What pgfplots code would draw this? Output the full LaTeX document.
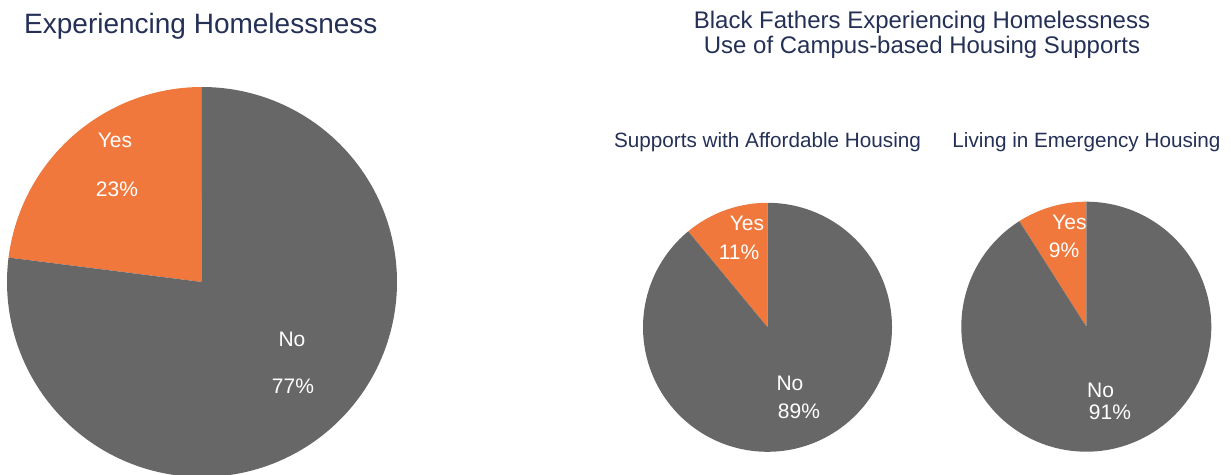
\documentclass[border=0pt]{standalone}
\usepackage{pgfplots}
\pgfplotsset{compat=1.18}
\usepackage{fontspec}
\setmainfont{Liberation Sans}
\definecolor{pieorange}{RGB}{240,120,60}
\definecolor{piegray}{RGB}{103,103,103}
\definecolor{titleblue}{RGB}{36,48,86}
\begin{document}
\begin{tikzpicture}[x=1pt,y=1pt]
\useasboundingbox (0,0) rectangle (1231,474);
\clip (0,0) rectangle (1231,474);
\pgfplotsset{pie/.style={hide axis, scale only axis, clip=false,
  xmin=-1,xmax=1,ymin=-1,ymax=1, anchor=origin}}
% Pie 1: Yes 23%, No 77%  (start at 90 deg, counter-clockwise)
\begin{axis}[pie, width=390pt, height=390pt, at={(202pt,192pt)}]
\addplot[fill=pieorange, draw=none, domain=90:172.8, samples=80] ({cos(x)},{sin(x)}) -- (0,0) -- cycle;
\addplot[fill=piegray, draw=none, domain=172.8:450, samples=240] ({cos(x)},{sin(x)}) -- (0,0) -- cycle;
\end{axis}
% Pie 2: Yes 11%, No 89%
\begin{axis}[pie, width=249pt, height=249pt, at={(767.5pt,146.7pt)}]
\addplot[fill=pieorange, draw=none, domain=90:129.6, samples=40] ({cos(x)},{sin(x)}) -- (0,0) -- cycle;
\addplot[fill=piegray, draw=none, domain=129.6:450, samples=240] ({cos(x)},{sin(x)}) -- (0,0) -- cycle;
\end{axis}
% Pie 3: Yes 9%, No 91%
\begin{axis}[pie, width=250pt, height=250pt, at={(1086.3pt,147.3pt)}]
\addplot[fill=pieorange, draw=none, domain=90:122.4, samples=40] ({cos(x)},{sin(x)}) -- (0,0) -- cycle;
\addplot[fill=piegray, draw=none, domain=122.4:450, samples=240] ({cos(x)},{sin(x)}) -- (0,0) -- cycle;
\end{axis}
% Titles
\node[anchor=base west, inner sep=0, text=titleblue, font=\fontsize{28}{32}\selectfont] at (24,440.7) {Experiencing Homelessness};
\node[anchor=base, inner sep=0, text=titleblue, font=\fontsize{24}{28}\selectfont] at (922,445.7) {Black Fathers Experiencing Homelessness};
\node[anchor=base, inner sep=0, text=titleblue, font=\fontsize{24}{28}\selectfont] at (922,420.7) {Use of Campus-based Housing Supports};
\node[anchor=base, inner sep=0, text=titleblue, font=\fontsize{20.7}{24}\selectfont] at (767.5,326) {Supports with Affordable Housing};
\node[anchor=base, inner sep=0, text=titleblue, font=\fontsize{20.7}{24}\selectfont] at (1086.5,326) {Living in Emergency Housing};
% Slice labels
\begin{scope}[every node/.style={anchor=base, inner sep=0, text=white, font=\fontsize{21}{25}\selectfont}]
\node at (115,326.5) {Yes};
\node at (117,277.5) {23\%};
\node at (292,127) {No};
\node at (293,80.5) {77\%};
\node at (747,243.7) {Yes};
\node at (739,214.7) {11\%};
\node at (790,83.5) {No};
\node at (799,55.5) {89\%};
\node at (1069.5,244.5) {Yes};
\node at (1064,216) {9\%};
\node at (1100.5,76.5) {No};
\node at (1110,54.5) {91\%};
\end{scope}
\end{tikzpicture}
\end{document}
